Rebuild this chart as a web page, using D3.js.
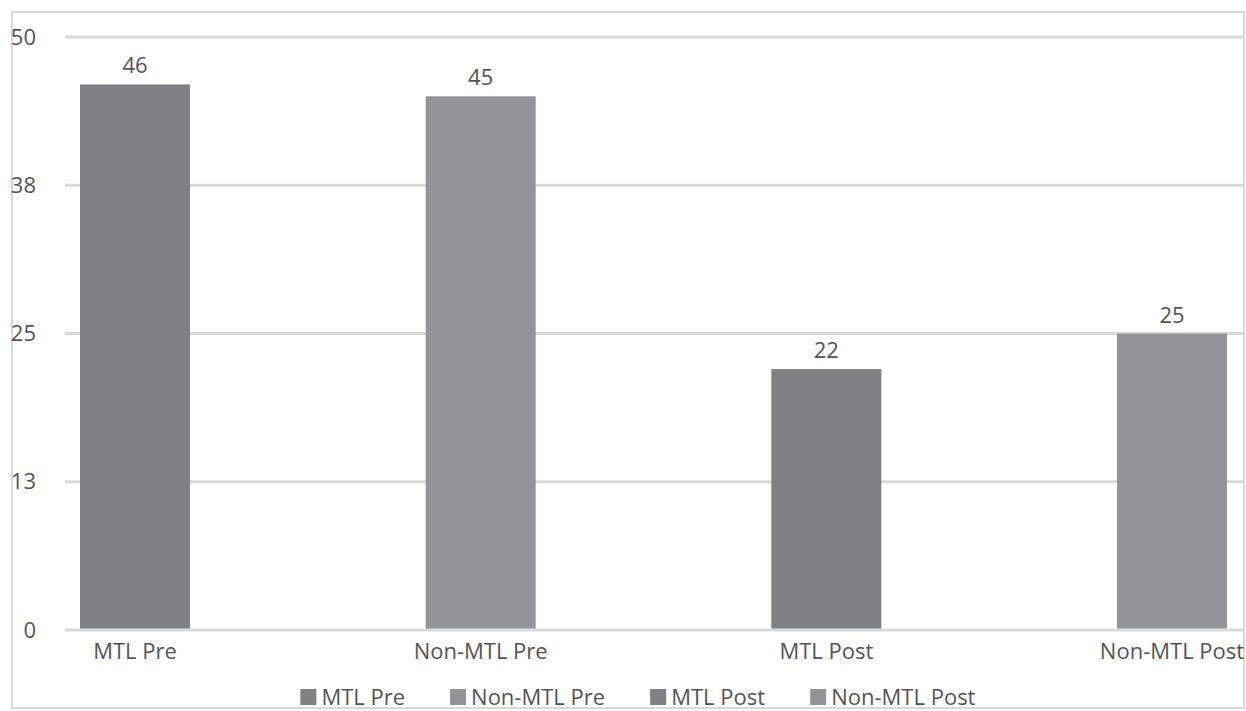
<!DOCTYPE html>
<html>
<head>
<meta charset="utf-8">
<script src="https://cdn.jsdelivr.net/npm/d3@7"></script>
<style>
  html, body { margin: 0; padding: 0; background: #fff; }
  svg { display: block; }
  text { font-family: "Open Sans", "Noto Sans", sans-serif; fill: #555555; }
</style>
</head>
<body>
<svg id="chart" width="1246" height="711"></svg>
<script>
// Series (one bar per category)
const categories = ["MTL Pre", "Non-MTL Pre", "MTL Post", "Non-MTL Post"];
const values = [46, 45, 22, 25];
const colors = ["#7f8083", "#939498", "#7f8083", "#939498"];
const tickValues = [0, 12.5, 25, 37.5, 50];
const tickLabels = ["0", "13", "25", "38", "50"];

const FS = 22;
const svg = d3.select("#chart");

// chart frame
svg.append("rect")
  .attr("x", 12).attr("y", 12)
  .attr("width", 1232).attr("height", 696)
  .attr("fill", "#fff")
  .attr("stroke", "#d9d9d9").attr("stroke-width", 2);

const plot = { left: 65, right: 1243, top: 37, bottom: 630 };

const y = d3.scaleLinear().domain([0, 50]).range([plot.bottom, plot.top]);
const x = d3.scalePoint().domain(categories).range([135, 1172]);
const barW = 110;

// gridlines
svg.append("g").selectAll("line")
  .data(tickValues)
  .join("line")
  .attr("x1", plot.left).attr("x2", plot.right)
  .attr("y1", d => y(d)).attr("y2", d => y(d))
  .attr("stroke", "#d9d9d9").attr("stroke-width", 3);

// y labels
svg.append("g").selectAll("text")
  .data(tickValues)
  .join("text")
  .attr("x", 36)
  .attr("y", d => Math.max(y(d), 34))
  .attr("dy", "0.35em")
  .attr("text-anchor", "end")
  .attr("font-size", FS)
  .text((d, i) => tickLabels[i]);

// bars
svg.append("g").selectAll("rect")
  .data(values)
  .join("rect")
  .attr("x", (d, i) => x(categories[i]) - barW / 2)
  .attr("width", barW)
  .attr("y", d => y(d))
  .attr("height", d => plot.bottom - 1.5 - y(d))
  .attr("fill", (d, i) => colors[i]);

// value labels
svg.append("g").selectAll("text")
  .data(values)
  .join("text")
  .attr("x", (d, i) => x(categories[i]))
  .attr("y", d => y(d) - 11)
  .attr("text-anchor", "middle")
  .attr("font-size", FS)
  .text(d => d);

// category labels
svg.append("g").selectAll("text")
  .data(categories)
  .join("text")
  .attr("x", d => x(d))
  .attr("y", 651)
  .attr("dy", "0.35em")
  .attr("text-anchor", "middle")
  .attr("font-size", FS)
  .text(d => d);

// legend
const legendGap = 45;
const legend = svg.append("g");
let lx = 0;
const items = legend.selectAll("g")
  .data(categories)
  .join("g");
items.append("rect")
  .attr("width", 16).attr("height", 16)
  .attr("y", -8)
  .attr("fill", (d, i) => colors[i]);
items.append("text")
  .attr("x", 21)
  .attr("y", 0)
  .attr("dy", "0.35em")
  .attr("font-size", FS)
  .text(d => d);
items.each(function () {
  const w = this.getBBox().width;
  d3.select(this).attr("transform", `translate(${lx},0)`);
  lx += w + legendGap;
});
const total = lx - legendGap;
legend.attr("transform", `translate(${(300 + 976) / 2 - total / 2},697)`);
</script>
</body>
</html>
